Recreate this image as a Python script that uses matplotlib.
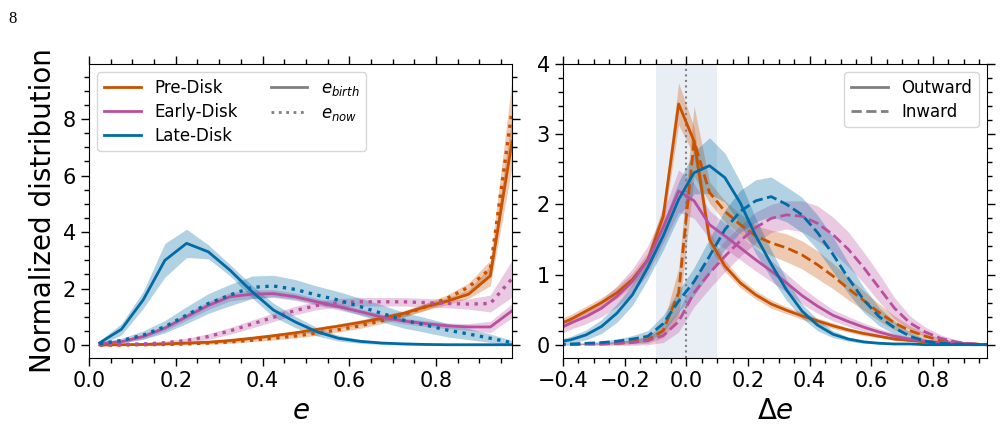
import numpy as np
import matplotlib
matplotlib.use("Agg")
import matplotlib.pyplot as plt
from matplotlib.lines import Line2D
from matplotlib.ticker import MultipleLocator

# ---- left panel: e distribution (bin centres) ----
e_bins = [0.025, 0.075, 0.125, 0.175, 0.225, 0.275, 0.325, 0.375, 0.425, 0.475,
          0.525, 0.575, 0.625, 0.675, 0.725, 0.775, 0.825, 0.875, 0.925, 0.975]

pre_birth = [0.0, 0.01, 0.02, 0.04, 0.07, 0.1, 0.16, 0.24, 0.33, 0.43,
             0.55, 0.67, 0.8, 0.95, 1.12, 1.35, 1.55, 1.8, 2.45, 7.2]
pre_birth_err = [0.02, 0.02, 0.02, 0.03, 0.03, 0.04, 0.05, 0.05, 0.06, 0.07,
                 0.08, 0.08, 0.09, 0.1, 0.1, 0.12, 0.12, 0.15, 0.35, 0.9]
pre_now = [0.0, 0.0, 0.01, 0.02, 0.04, 0.07, 0.11, 0.17, 0.24, 0.32,
           0.42, 0.54, 0.68, 0.86, 1.08, 1.35, 1.65, 2.05, 2.7, 8.3]
pre_now_err = [0.02, 0.02, 0.02, 0.03, 0.03, 0.04, 0.05, 0.05, 0.06, 0.07,
               0.08, 0.08, 0.09, 0.1, 0.1, 0.12, 0.12, 0.15, 0.3, 1.1]

early_birth = [0.05, 0.12, 0.3, 0.6, 1.0, 1.4, 1.71, 1.8, 1.82, 1.71,
               1.53, 1.36, 1.18, 0.99, 0.85, 0.76, 0.68, 0.64, 0.64, 1.21]
early_birth_err = [0.03, 0.05, 0.08, 0.1, 0.12, 0.14, 0.15, 0.15, 0.14, 0.13,
                   0.12, 0.12, 0.11, 0.1, 0.1, 0.1, 0.1, 0.12, 0.2, 0.25]
early_now = [0.0, 0.02, 0.04, 0.08, 0.16, 0.3, 0.5, 0.74, 0.98, 1.22,
             1.4, 1.5, 1.53, 1.53, 1.53, 1.5, 1.47, 1.45, 1.47, 2.35]
early_now_err = [0.02, 0.03, 0.04, 0.06, 0.08, 0.1, 0.12, 0.14, 0.15, 0.15,
                 0.15, 0.15, 0.15, 0.15, 0.15, 0.15, 0.15, 0.18, 0.3, 0.65]

late_birth = [0.08, 0.56, 1.6, 3.0, 3.6, 3.3, 2.65, 1.9, 1.24, 0.82,
              0.47, 0.24, 0.13, 0.07, 0.04, 0.02, 0.01, 0.01, 0.01, 0.01]
late_birth_err = [0.08, 0.2, 0.3, 0.6, 0.5, 0.25, 0.2, 0.22, 0.24, 0.2,
                  0.15, 0.1, 0.07, 0.05, 0.04, 0.03, 0.02, 0.02, 0.02, 0.02]
late_now = [0.05, 0.16, 0.35, 0.65, 1.06, 1.47, 1.77, 2.04, 2.09, 1.97,
            1.77, 1.59, 1.36, 1.12, 0.88, 0.71, 0.53, 0.39, 0.24, 0.08]
late_now_err = [0.04, 0.08, 0.15, 0.22, 0.3, 0.35, 0.38, 0.4, 0.38, 0.35,
                0.32, 0.3, 0.3, 0.3, 0.28, 0.26, 0.24, 0.2, 0.15, 0.08]

# ---- right panel: delta e distribution ----
de_bins = [-0.425, -0.375, -0.325, -0.275, -0.225, -0.175, -0.125, -0.075, -0.025,
           0.025, 0.075, 0.125, 0.175, 0.225, 0.275, 0.325, 0.375, 0.425, 0.475,
           0.525, 0.575, 0.625, 0.675, 0.725, 0.775, 0.825, 0.875, 0.925, 0.975]

pre_out = [0.27, 0.36, 0.48, 0.6, 0.74, 0.93, 1.21, 1.83, 3.43, 2.9, 1.5, 1.12, 0.88, 0.71,
           0.58, 0.49, 0.41, 0.34, 0.27, 0.21, 0.16, 0.12, 0.08, 0.06, 0.04, 0.02, 0.01, 0.01, 0.0]
pre_out_err = [0.07, 0.07, 0.07, 0.07, 0.08, 0.09, 0.1, 0.15, 0.3, 0.2, 0.12, 0.08, 0.07, 0.06,
               0.06, 0.05, 0.05, 0.04, 0.04, 0.03, 0.03, 0.02, 0.02, 0.01, 0.01, 0.01, 0.01, 0.01, 0.0]
pre_in = [0.0, 0.0, 0.01, 0.01, 0.02, 0.04, 0.07, 0.2, 0.74, 2.9, 2.17, 1.9, 1.71, 1.55,
          1.45, 1.38, 1.28, 1.14, 0.98, 0.8, 0.63, 0.46, 0.31, 0.2, 0.12, 0.06, 0.03, 0.01, 0.0]
pre_in_err = [0.0, 0.0, 0.01, 0.01, 0.02, 0.03, 0.05, 0.1, 0.35, 0.5, 0.15, 0.15, 0.15, 0.15,
              0.18, 0.2, 0.2, 0.2, 0.18, 0.16, 0.14, 0.12, 0.1, 0.07, 0.05, 0.03, 0.02, 0.01, 0.0]

early_out = [0.2, 0.31, 0.4, 0.52, 0.69, 0.9, 1.21, 1.67, 2.19, 2.05, 1.71, 1.55, 1.38, 1.21,
             1.05, 0.88, 0.7, 0.55, 0.42, 0.33, 0.25, 0.18, 0.12, 0.08, 0.05, 0.03, 0.02, 0.01, 0.0]
early_out_err = [0.08, 0.09, 0.1, 0.12, 0.15, 0.18, 0.2, 0.22, 0.3, 0.25, 0.2, 0.18, 0.17, 0.16,
                 0.15, 0.13, 0.12, 0.1, 0.08, 0.07, 0.06, 0.05, 0.04, 0.03, 0.02, 0.02, 0.01, 0.01, 0.0]
early_in = [0.0, 0.0, 0.01, 0.01, 0.02, 0.03, 0.06, 0.13, 0.33, 0.74, 1.02, 1.26, 1.48, 1.67,
            1.8, 1.85, 1.83, 1.73, 1.57, 1.36, 1.1, 0.81, 0.52, 0.31, 0.18, 0.09, 0.04, 0.01, 0.0]
early_in_err = [0.0, 0.01, 0.01, 0.02, 0.03, 0.04, 0.06, 0.1, 0.15, 0.2, 0.22, 0.22, 0.22, 0.22,
                0.2, 0.2, 0.22, 0.25, 0.25, 0.25, 0.22, 0.2, 0.15, 0.1, 0.07, 0.05, 0.03, 0.01, 0.0]

late_out = [0.03, 0.07, 0.14, 0.26, 0.45, 0.71, 1.1, 1.55, 2.07, 2.45, 2.55, 2.38, 2.02, 1.55,
            1.15, 0.78, 0.48, 0.28, 0.15, 0.08, 0.04, 0.02, 0.01, 0.01, 0.0, 0.0, 0.0, 0.0, 0.0]
late_out_err = [0.03, 0.05, 0.07, 0.1, 0.13, 0.15, 0.17, 0.2, 0.25, 0.3, 0.4, 0.35, 0.3, 0.25,
                0.2, 0.15, 0.1, 0.08, 0.05, 0.03, 0.02, 0.01, 0.01, 0.0, 0.0, 0.0, 0.0, 0.0, 0.0]
late_in = [0.0, 0.01, 0.02, 0.03, 0.05, 0.08, 0.12, 0.3, 0.62, 0.9, 1.26, 1.64, 1.9, 2.05,
           2.11, 2.0, 1.85, 1.6, 1.29, 0.95, 0.64, 0.4, 0.24, 0.12, 0.05, 0.02, 0.01, 0.0, 0.0]
late_in_err = [0.0, 0.01, 0.01, 0.02, 0.03, 0.05, 0.08, 0.12, 0.15, 0.2, 0.25, 0.28, 0.3, 0.3,
               0.28, 0.25, 0.25, 0.25, 0.25, 0.22, 0.18, 0.13, 0.09, 0.06, 0.03, 0.02, 0.01, 0.0, 0.0]

labels = ["Pre-Disk", "Early-Disk", "Late-Disk"]
colors = ["#c85200", "#b8509f", "#006ba4"]


def band(ax, x, y, err, color, ls, lw=2):
    x = np.asarray(x)
    y = np.asarray(y)
    err = np.asarray(err)
    ax.fill_between(x, y - err, y + err, color=color, alpha=0.3, lw=0)
    ax.plot(x, y, color=color, ls=ls, lw=lw)


fig = plt.figure(figsize=(10.02, 4.26), dpi=100)
ax1 = fig.add_axes([0.0888, 0.1596, 0.4222, 0.6902])
ax2 = fig.add_axes([0.5619, 0.1596, 0.4231, 0.6902])

# left panel
births = [(pre_birth, pre_birth_err), (early_birth, early_birth_err), (late_birth, late_birth_err)]
nows = [(pre_now, pre_now_err), (early_now, early_now_err), (late_now, late_now_err)]
for (yb, eb), (yn, en), c in zip(births, nows, colors):
    band(ax1, e_bins, yb, eb, c, "-")
    band(ax1, e_bins, yn, en, c, ":", lw=2.4)

ax1.set_xlim(0, 0.975)
ax1.set_ylim(-0.46, 9.95)
ax1.set_xlabel(r"$e$", fontsize=20)
ax1.set_ylabel("Normalized distribution", fontsize=20)
ax1.xaxis.set_major_locator(MultipleLocator(0.2))
ax1.xaxis.set_minor_locator(MultipleLocator(0.05))
ax1.yaxis.set_major_locator(MultipleLocator(2))
ax1.yaxis.set_minor_locator(MultipleLocator(0.5))

handles = [Line2D([], [], color=c, lw=2) for c in colors]
handles += [Line2D([], [], color="gray", lw=2, ls="-"),
            Line2D([], [], color="gray", lw=2, ls=":")]
ax1.legend(handles, labels + [r"$e_{birth}$", r"$e_{now}$"], ncol=2,
           loc="upper left", fontsize=12, handlelength=2.2, labelspacing=0.35)

# right panel
ax2.axvspan(-0.1, 0.1, color="lightsteelblue", alpha=0.28, lw=0)
ax2.axvline(0, color="gray", ls=":", lw=1.5)
outs = [(pre_out, pre_out_err), (early_out, early_out_err), (late_out, late_out_err)]
ins = [(pre_in, pre_in_err), (early_in, early_in_err), (late_in, late_in_err)]
for (yo, eo), (yi, ei), c in zip(outs, ins, colors):
    band(ax2, de_bins, yo, eo, c, "-")
    band(ax2, de_bins, yi, ei, c, "--")

ax2.set_xlim(-0.4, 0.975)
ax2.set_ylim(-0.19, 4.0)
ax2.set_xlabel(r"$\Delta e$", fontsize=20)
ax2.xaxis.set_major_locator(MultipleLocator(0.2))
ax2.xaxis.set_minor_locator(MultipleLocator(0.05))
ax2.yaxis.set_major_locator(MultipleLocator(1))
ax2.yaxis.set_minor_locator(MultipleLocator(0.2))
h2 = [Line2D([], [], color="gray", lw=2, ls="-"),
      Line2D([], [], color="gray", lw=2, ls="--")]
ax2.legend(h2, ["Outward", "Inward"], loc="upper right", fontsize=12,
           handlelength=2.2, labelspacing=0.35)

for ax in (ax1, ax2):
    ax.tick_params(which="both", direction="out", top=True, right=True, labelsize=15, width=1)
    ax.tick_params(which="major", length=6)
    ax.tick_params(which="minor", length=3.5)

fig.text(0.008, 0.975, "8", family="Liberation Serif", fontsize=12, va="top", ha="left")

fig.savefig("out.png", dpi=100)
